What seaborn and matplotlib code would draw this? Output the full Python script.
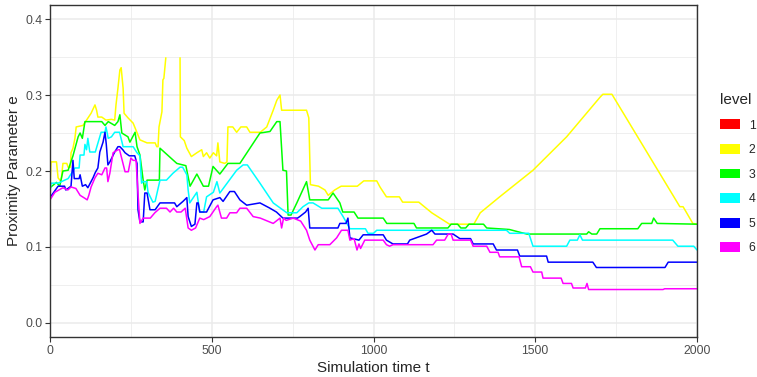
import numpy as np
import pandas as pd
import seaborn as sns
import matplotlib.pyplot as plt
from matplotlib.patches import Patch

# level 2 (yellow) - NaN marks the part that runs off the top of the scale
t2 = [0, 3, 20, 25, 34, 40, 52, 56, 63, 65,
      71, 77, 81, 102, 127, 139, 144, 148, 160, 173,
      190, 200, 204, 210, 216, 220, 226, 229, 241, 257,
      278, 300, 318, 325, 330, 334, 337, 346, 349, 352,
      358, 380,
      402, 403, 415, 423, 437, 454, 469, 474, 484, 494,
      505, 515, 519, 525, 540, 547, 550, 565, 577, 590,
      608, 618, 650, 670, 690, 701, 711, 716, 732, 793,
      800, 805, 830, 850, 860, 880, 900, 950, 970, 1010,
      1020, 1040, 1080, 1090, 1140, 1180, 1235, 1310, 1330, 1390,
      1493, 1597, 1700, 1709, 1737, 1947, 1957, 1987, 2000]
v2 = [0.175, 0.212, 0.212, 0.191, 0.186, 0.21, 0.21, 0.205, 0.205, 0.224,
      0.23, 0.243, 0.258, 0.26, 0.276, 0.287, 0.28, 0.271, 0.271, 0.267,
      0.268, 0.267, 0.287, 0.309, 0.333, 0.336, 0.309, 0.276, 0.27, 0.263,
      0.241, 0.237, 0.237, 0.237, 0.232, 0.232, 0.258, 0.278, 0.32, 0.322,
      0.349, np.nan,
      0.349, 0.245, 0.24, 0.23, 0.219, 0.224, 0.228, 0.219, 0.224, 0.217,
      0.224, 0.22, 0.237, 0.212, 0.21, 0.212, 0.258, 0.258, 0.251, 0.258,
      0.258, 0.251, 0.251, 0.258, 0.28, 0.293, 0.30, 0.28, 0.28, 0.28,
      0.27, 0.182, 0.18, 0.175, 0.168, 0.175, 0.18, 0.18, 0.187, 0.187,
      0.179, 0.166, 0.166, 0.159, 0.159, 0.145, 0.13, 0.13, 0.145, 0.166,
      0.201, 0.245, 0.297, 0.301, 0.301, 0.153, 0.153, 0.131, 0.13]

# level 3 (green)
t3 = [0, 20, 30, 40, 56, 71, 87, 93, 100, 108,
      160, 170, 180, 200, 210, 216, 222, 241, 247, 263,
      269, 278, 288, 293, 300, 330, 338, 340, 392, 420,
      433, 454, 474, 490, 504, 525, 550, 587, 649, 680,
      701, 711, 720, 731, 736, 745, 763, 793, 803, 860,
      875, 896, 905, 940, 952, 1030, 1041, 1125, 1133, 1230,
      1240, 1260, 1270, 1285, 1295, 1340, 1350, 1420, 1474, 1659,
      1665, 1675, 1690, 1700, 1817, 1829, 1860, 1866, 1877, 2000]
v3 = [0.178, 0.185, 0.18, 0.2, 0.201, 0.22, 0.245, 0.25, 0.243, 0.265,
      0.265, 0.26, 0.265, 0.26, 0.265, 0.274, 0.25, 0.245, 0.238, 0.251,
      0.232, 0.221, 0.188, 0.175, 0.188, 0.188, 0.188, 0.23, 0.21, 0.207,
      0.18, 0.196, 0.18, 0.18, 0.206, 0.196, 0.21, 0.21, 0.25, 0.252,
      0.265, 0.265, 0.201, 0.20, 0.142, 0.142, 0.158, 0.186, 0.162, 0.162,
      0.171, 0.158, 0.146, 0.146, 0.138, 0.138, 0.131, 0.131, 0.125, 0.125,
      0.13, 0.13, 0.125, 0.125, 0.13, 0.13, 0.125, 0.123, 0.117, 0.117,
      0.12, 0.117, 0.117, 0.124, 0.124, 0.131, 0.131, 0.138, 0.131, 0.13]

# level 4 (cyan)
t4 = [0, 3, 25, 56, 77, 90, 93, 105, 108, 113,
      117, 123, 140, 158, 170, 173, 180, 190, 200, 215,
      226, 257, 269, 278, 283, 288, 299, 303, 318, 325,
      340, 360, 380, 402, 410, 423, 427, 432, 454, 463,
      475, 484, 505, 516, 525, 577, 597, 610, 649, 690,
      732, 763, 782, 800, 813, 840, 855, 890, 906, 927,
      975, 983, 1000, 1010, 1411, 1421, 1480, 1493, 1597, 1607,
      1630, 1638, 1646, 1925, 1941, 1990, 2000]
v4 = [0.17, 0.184, 0.184, 0.19, 0.204, 0.204, 0.221, 0.221, 0.235, 0.228,
      0.243, 0.225, 0.225, 0.251, 0.251, 0.258, 0.243, 0.245, 0.251, 0.251,
      0.232, 0.232, 0.224, 0.22, 0.184, 0.186, 0.186, 0.172, 0.159, 0.16,
      0.188, 0.188, 0.197, 0.205, 0.205, 0.195, 0.175, 0.158, 0.172, 0.146,
      0.146, 0.166, 0.172, 0.186, 0.171, 0.201, 0.208, 0.208, 0.184, 0.158,
      0.145, 0.145, 0.153, 0.158, 0.158, 0.151, 0.151, 0.151, 0.14, 0.124,
      0.124, 0.118, 0.118, 0.122, 0.122, 0.118, 0.118, 0.101, 0.101, 0.109,
      0.109, 0.116, 0.109, 0.109, 0.101, 0.101, 0.096]

# level 5 (blue)
t5 = [0, 25, 45, 49, 65, 71, 75, 90, 93, 100,
      110, 117, 133, 140, 148, 154, 164, 170, 174, 179,
      185, 200, 210, 216, 225, 232, 245, 255, 262, 269,
      272, 278, 288, 293, 300, 309, 325, 340, 385, 392,
      411, 423, 427, 437, 448, 454, 458, 463, 484, 504,
      525, 535, 556, 570, 587, 608, 649, 680, 700, 720,
      765, 772, 790, 798, 803, 890, 896, 915, 921, 927,
      955, 968, 1030, 1040, 1060, 1105, 1112, 1164, 1180, 1190,
      1246, 1267, 1300, 1308, 1370, 1380, 1445, 1452, 1535, 1540,
      1678, 1689, 1901, 1911, 2000]
v5 = [0.165, 0.18, 0.18, 0.175, 0.18, 0.214, 0.19, 0.19, 0.195, 0.18,
      0.182, 0.178, 0.191, 0.198, 0.204, 0.225, 0.238, 0.251, 0.235, 0.208,
      0.212, 0.225, 0.232, 0.232, 0.228, 0.224, 0.22, 0.22, 0.22, 0.21,
      0.149, 0.133, 0.133, 0.171, 0.171, 0.149, 0.149, 0.158, 0.158, 0.153,
      0.16, 0.165, 0.14, 0.127, 0.13, 0.158, 0.158, 0.146, 0.146, 0.162,
      0.165, 0.16, 0.173, 0.173, 0.162, 0.155, 0.158, 0.151, 0.146, 0.138,
      0.138, 0.14, 0.146, 0.151, 0.125, 0.125, 0.131, 0.131, 0.138, 0.112,
      0.109, 0.116, 0.116, 0.109, 0.104, 0.104, 0.109, 0.117, 0.122, 0.117,
      0.117, 0.111, 0.111, 0.104, 0.104, 0.096, 0.096, 0.088, 0.088, 0.08,
      0.08, 0.073, 0.073, 0.08, 0.08]

# level 6 (magenta)
t6 = [0, 15, 40, 55, 65, 80, 93, 108, 115, 120,
      127, 139, 148, 160, 170, 175, 179, 185, 195, 210,
      215, 232, 242, 250, 257, 266, 272, 278, 288, 310,
      324, 340, 360, 371, 382, 392, 405, 418, 427, 437,
      450, 463, 475, 494, 515, 519, 530, 546, 556, 577,
      587, 608, 628, 650, 690, 711, 716, 722, 730, 752,
      775, 793, 803, 819, 829, 865, 886, 901, 921, 927,
      940, 949, 955, 960, 973, 1030, 1040, 1050, 1060, 1184,
      1195, 1220, 1231, 1240, 1246, 1300, 1308, 1350, 1360, 1385,
      1390, 1450, 1458, 1485, 1493, 1520, 1524, 1580, 1586, 1612,
      1617, 1655, 1660, 1665, 1895, 1900, 2000]
v6 = [0.162, 0.172, 0.178, 0.175, 0.179, 0.177, 0.168, 0.164, 0.162, 0.168,
      0.179, 0.191, 0.197, 0.195, 0.204, 0.204, 0.186, 0.197, 0.224, 0.228,
      0.228, 0.199, 0.199, 0.217, 0.214, 0.214, 0.171, 0.131, 0.138, 0.138,
      0.145, 0.151, 0.151, 0.146, 0.151, 0.146, 0.146, 0.151, 0.125, 0.122,
      0.125, 0.138, 0.136, 0.14, 0.153, 0.155, 0.138, 0.138, 0.145, 0.145,
      0.151, 0.151, 0.14, 0.138, 0.131, 0.138, 0.125, 0.138, 0.135, 0.138,
      0.134, 0.122, 0.109, 0.096, 0.103, 0.103, 0.112, 0.122, 0.122, 0.109,
      0.111, 0.096, 0.104, 0.098, 0.109, 0.109, 0.103, 0.101, 0.103, 0.103,
      0.109, 0.109, 0.117, 0.117, 0.109, 0.109, 0.101, 0.101, 0.093, 0.093,
      0.087, 0.087, 0.074, 0.074, 0.067, 0.067, 0.059, 0.059, 0.052, 0.052,
      0.046, 0.046, 0.052, 0.044, 0.044, 0.045, 0.045]

levels = ["1", "2", "3", "4", "5", "6"]
colors = ["#FF0000", "#FFFF00", "#00FF00", "#00FFFF", "#0000FF", "#FF00FF"]
palette = dict(zip(levels, colors))

frames = []
for lev, t, v in [("2", t2, v2), ("3", t3, v3), ("4", t4, v4), ("5", t5, v5), ("6", t6, v6)]:
    d = pd.DataFrame({"t": t, "e": v})
    d["seg"] = lev + "_" + d["e"].isna().cumsum().astype(str)
    d["level"] = lev
    frames.append(d.dropna())
df = pd.concat(frames, ignore_index=True)

sns.set_style("white")
plt.rcParams["font.family"] = ["Liberation Sans", "DejaVu Sans"]

fig = plt.figure(figsize=(7.57, 3.77), dpi=100)
ax = fig.add_axes([50 / 757, 40 / 377, 647 / 757, 332 / 377])

sns.lineplot(data=df, x="t", y="e", hue="level", units="seg", estimator=None,
             palette=palette, hue_order=levels[1:], legend=False, lw=1.1, ax=ax)

ax.set_xlim(0, 2000)
ax.set_ylim(-0.0185, 0.4185)
ax.set_xticks([0, 500, 1000, 1500, 2000])
ax.set_xticks([250, 750, 1250, 1750], minor=True)
ax.set_yticks([0.0, 0.1, 0.2, 0.3, 0.4])
ax.set_yticks([0.05, 0.15, 0.25, 0.35], minor=True)
ax.set_yticklabels(["0.0", "0.1", "0.2", "0.3", "0.4"])
ax.grid(which="major", color="#EBEBEB", lw=1.1)
ax.grid(which="minor", color="#EBEBEB", lw=0.55)
ax.set_axisbelow(True)
ax.tick_params(which="major", length=3.5, width=0.8, color="#333333",
               labelsize=8.8, labelcolor="#4D4D4D", pad=2, left=True, bottom=True)
ax.tick_params(which="minor", length=0)
for s in ax.spines.values():
    s.set_color("#333333")
    s.set_linewidth(1.0)

ax.set_xlabel("Simulation time t", fontsize=11, labelpad=3)
ax.set_ylabel("Proximity Parameter e", fontsize=11, labelpad=3)

handles = [Patch(facecolor=c, edgecolor="none") for c in colors]
leg = fig.legend(handles, levels, title="level", loc="upper left",
                 bbox_to_anchor=(709 / 757, 1 - 82 / 377), frameon=False,
                 fontsize=8.8, title_fontsize=11, handlelength=1.6,
                 handleheight=0.85, labelspacing=1.02, handletextpad=0.75)
leg._legend_box.align = "left"

fig.savefig("out.png", dpi=100)
